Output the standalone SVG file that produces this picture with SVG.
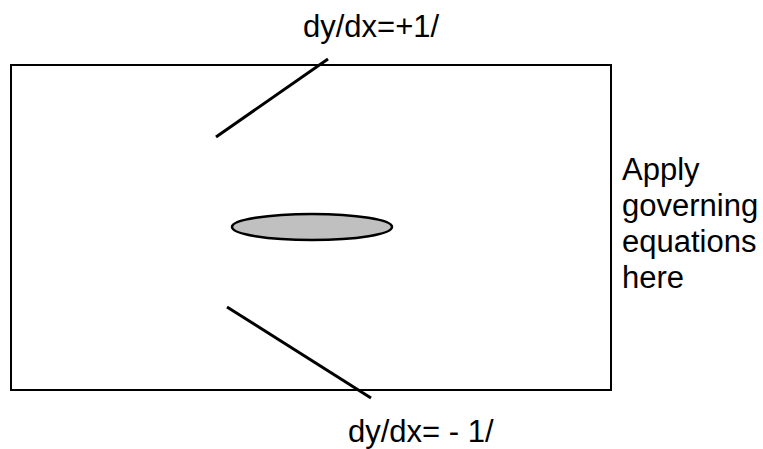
<svg xmlns="http://www.w3.org/2000/svg" width="763" height="449" viewBox="0 0 763 449">
<style>
.t{font-family:"Liberation Sans",Arial,sans-serif;font-size:31px;fill:#000}
.l{stroke:#000;stroke-width:3;fill:none}
</style>
<rect x="0" y="0" width="763" height="449" fill="#fff"/>
<g id="domain"><rect x="11" y="65" width="600" height="325" fill="none" stroke="#000" stroke-width="2"/></g>
<g id="body"><ellipse cx="312" cy="227" rx="80" ry="13" fill="#c0c0c0" stroke="#000" stroke-width="2.5"/></g>
<g id="connectors">
<line class="l" x1="216" y1="137" x2="328" y2="59"/>
<line class="l" x1="227" y1="307" x2="371" y2="398"/>
</g>
<g id="labels">
<text class="t" x="303" y="37">dy/dx=+1/</text>
<text class="t" x="348" y="442">dy/dx= - 1/</text>
<text class="t" x="622" y="180">Apply</text>
<text class="t" x="622" y="216">governing</text>
<text class="t" x="622" y="252">equations</text>
<text class="t" x="622" y="288">here</text>
</g>
</svg>
